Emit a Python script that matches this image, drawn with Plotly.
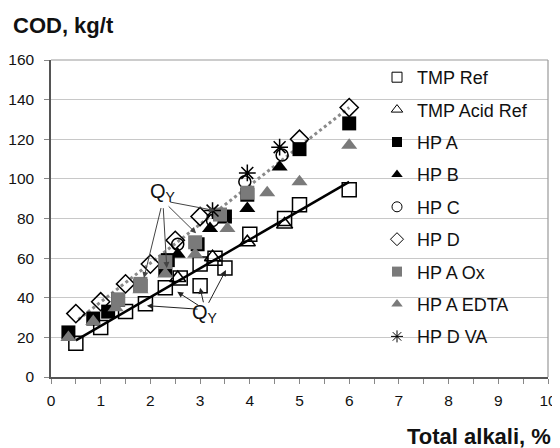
import plotly.graph_objects as go

# ---- data ----
tmp_ref_x = [0.5, 1.0, 1.5, 1.9, 2.3, 2.6, 3.0, 3.0, 3.3, 3.5, 4.0, 4.7, 5.0, 6.0]
tmp_ref_y = [17, 25, 33, 37, 45, 50, 46, 57, 60, 55, 72, 80, 87, 94.5]

tmp_acid_x = [2.55, 3.25, 3.95, 4.7]
tmp_acid_y = [50, 60.5, 68, 77]

hp_a_x = [0.35, 0.85, 1.15, 1.35, 1.8, 2.3, 2.35, 2.95, 3.5, 3.95, 5.0, 6.0]
hp_a_y = [22.5, 29.5, 33, 39, 46, 54, 59, 67, 81, 92, 115, 128]

hp_b_x = [2.55, 3.2, 3.95, 4.6]
hp_b_y = [62, 75, 85, 106]

hp_c_x = [2.55, 3.25, 3.9, 4.65]
hp_c_y = [67, 79, 98.5, 112]

hp_d_x = [0.5, 1.0, 1.5, 2.0, 2.5, 3.0, 5.0, 6.0]
hp_d_y = [32, 38, 47, 57, 69, 81, 120, 136]

hp_a_ox_x = [1.35, 1.8, 2.3, 2.9, 3.4, 3.95]
hp_a_ox_y = [39, 47, 58, 68, 82, 93]

hp_a_edta_x = [0.35, 0.85, 1.3, 1.8, 2.3, 2.9, 3.55, 4.35, 5.0, 6.0]
hp_a_edta_y = [20, 28, 35, 44, 52, 62, 75, 93, 98.5, 117]

hp_d_va_x = [3.25, 3.95, 4.6]
hp_d_va_y = [84, 103, 116]

tmp_fit_x = [0.5, 6.0]
tmp_fit_y = [18.5, 98.5]
hpd_fit_x = [0.55, 6.0]
hpd_fit_y = [29, 136]

# Q_Y annotation label positions and arrow targets
qy_upper_label = (2.25, 93)
qy_upper_x = [1.87, 2.33, 2.92, 3.3]
qy_upper_y = [50, 55, 72.5, 84]
qy_lower_label = (3.1, 32)
qy_lower_x = [1.93, 2.54, 3.0, 3.52]
qy_lower_y = [36, 43, 45, 54]

x_ticks = list(range(0, 11))
y_ticks = list(range(0, 161, 20))

BLACK = "#000000"
GRAY = "#7a7a7a"
FONT = "Arial, Liberation Sans, sans-serif"

# page is drawn with an 8px body margin -> figure is 8px smaller
OFF = 8
W, H = 560 - OFF, 448 - OFF
L, R, T, B = 51 - OFF, 12, 60 - OFF, 71
pw, ph = W - L - R, H - T - B


def px_to_paper(px, py):
    """page pixel -> paper coordinates"""
    return (px - OFF - L) / pw, (H - B - (py - OFF)) / ph


fig = go.Figure()

# trend lines (not in legend)
fig.add_trace(go.Scatter(x=hpd_fit_x, y=hpd_fit_y, mode="lines",
                         line=dict(color="#8a8a8a", width=3, dash="dot"),
                         showlegend=False, hoverinfo="skip"))
fig.add_trace(go.Scatter(x=tmp_fit_x, y=tmp_fit_y, mode="lines",
                         line=dict(color=BLACK, width=2.5),
                         showlegend=False, hoverinfo="skip"))

series = [
    ("TMP Ref", tmp_ref_x, tmp_ref_y, "square-open", BLACK, 14, 1.5),
    ("TMP Acid Ref", tmp_acid_x, tmp_acid_y, "triangle-up-open", BLACK, 14, 1.5),
    ("HP A", hp_a_x, hp_a_y, "square", BLACK, 14, 0),
    ("HP B", hp_b_x, hp_b_y, "triangle-up", BLACK, 14, 0),
    ("HP C", hp_c_x, hp_c_y, "circle-open", BLACK, 12, 1.5),
    ("HP D", hp_d_x, hp_d_y, "diamond-open", BLACK, 14, 1.5),
    ("HP A Ox", hp_a_ox_x, hp_a_ox_y, "square", GRAY, 14, 0),
    ("HP A EDTA", hp_a_edta_x, hp_a_edta_y, "triangle-up", GRAY, 14, 0),
    ("HP D VA", hp_d_va_x, hp_d_va_y, "asterisk-open", BLACK, 14, 1.5),
]
for name, xs, ys, sym, col, size, lw in series:
    fig.add_trace(go.Scatter(
        x=xs, y=ys, mode="markers", name=name, legendgroup=name, showlegend=False,
        marker=dict(symbol=sym, size=size, color=col,
                    line=dict(color=col, width=lw)),
    ))
# legend entries with small glyph-like markers
for name, xs, ys, sym, col, size, lw in series:
    fig.add_trace(go.Scatter(
        x=[None], y=[None], mode="markers", name=name, legendgroup=name,
        marker=dict(symbol=sym, size=10, color=col,
                    line=dict(color=col, width=1 if lw else 0)),
    ))

annotations = []
for tx, ty in zip(qy_upper_x, qy_upper_y):
    annotations.append(dict(x=tx, y=ty, ax=qy_upper_label[0], ay=qy_upper_label[1] - 4,
                            xref="x", yref="y", axref="x", ayref="y",
                            text="", showarrow=True, arrowhead=2, arrowsize=1.2,
                            arrowwidth=1, arrowcolor="#444444", startstandoff=6))
for tx, ty in zip(qy_lower_x, qy_lower_y):
    annotations.append(dict(x=tx, y=ty, ax=qy_lower_label[0], ay=qy_lower_label[1] + 2,
                            xref="x", yref="y", axref="x", ayref="y",
                            text="", showarrow=True, arrowhead=2, arrowsize=1.2,
                            arrowwidth=1, arrowcolor="#222222", startstandoff=6))
for lx, ly in (qy_upper_label, qy_lower_label):
    annotations.append(dict(x=lx, y=ly, xref="x", yref="y", showarrow=False,
                            text="Q<sub>Y</sub>",
                            font=dict(family=FONT, size=20, color="#111111")))
cx, cy = px_to_paper(11, 25)
annotations.append(dict(x=cx, y=cy, xref="paper", yref="paper", xanchor="left",
                        yanchor="middle", text="<b>COD, kg/t</b>", showarrow=False,
                        font=dict(family=FONT, size=22, color="#111111")))
cx, cy = px_to_paper(553, 436)
annotations.append(dict(x=cx, y=cy, xref="paper", yref="paper", xanchor="right",
                        yanchor="middle", text="<b>Total alkali, %</b>", showarrow=False,
                        font=dict(family=FONT, size=22, color="#111111")))

box_x, _ = px_to_paper(387, 0)
leg_x, leg_y = px_to_paper(377, 59)

fig.update_layout(
    width=W, height=H,
    margin=dict(l=L, r=R, t=T, b=B, pad=0),
    paper_bgcolor="white", plot_bgcolor="white",
    font=dict(family=FONT, size=15, color="#111111"),
    annotations=annotations,
    xaxis=dict(range=[0, 10], tickvals=x_ticks, showgrid=False, zeroline=False,
               showline=True, linecolor="#555555", linewidth=1.5,
               ticks="outside", ticklen=5, tickcolor="#888888",
               minor=dict(dtick=0.5, ticks="outside", ticklen=5, tickcolor="#888888"),
               ticklabelstandoff=4, automargin=False,
               tickfont=dict(size=15.5, color="#111111")),
    yaxis=dict(range=[0, 160], tickvals=y_ticks, showgrid=True, gridcolor="#c8c8c8",
               gridwidth=1, zeroline=False, showline=True, linecolor="#555555",
               linewidth=1.5, ticks="outside", ticklen=5, tickcolor="#888888",
               ticklabelstandoff=7, automargin=False,
               tickfont=dict(size=15.5, color="#111111")),
    legend=dict(x=leg_x, y=leg_y, xanchor="left", yanchor="top",
                bgcolor="rgba(0,0,0,0)", borderwidth=0, maxheight=430,
                font=dict(size=18, family=FONT, color="#111111"),
                itemsizing="trace", tracegroupgap=6, itemwidth=30),
    shapes=[
        dict(type="rect", xref="paper", yref="paper", x0=box_x, x1=1, y0=0.004, y1=1,
             fillcolor="white", line=dict(width=0), layer="between"),
        dict(type="line", xref="paper", yref="paper", x0=0, x1=1, y0=1, y1=1,
             line=dict(color="#999999", width=1)),
        dict(type="line", xref="paper", yref="paper", x0=1, x1=1, y0=0, y1=1,
             line=dict(color="#999999", width=1.2)),
    ],
)

fig.write_html("out.html")
